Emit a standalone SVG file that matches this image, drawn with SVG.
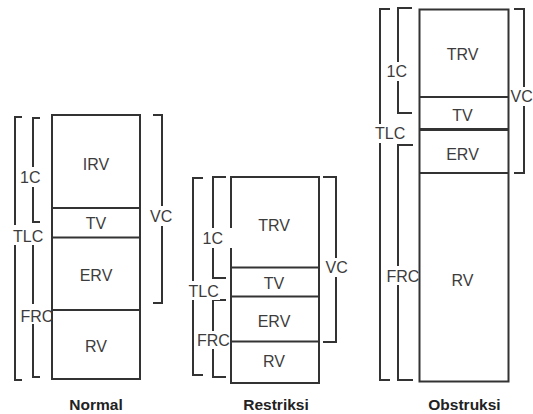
<svg xmlns="http://www.w3.org/2000/svg" width="533" height="414" viewBox="0 0 533 414">
<style>
.bk{fill:none;stroke:#333;stroke-width:2}
.box{fill:#fff;stroke:#333;stroke-width:2}
.dv{stroke:#333;stroke-width:2}
.bg{fill:#fff}
.t{font-family:"Liberation Sans",Arial,sans-serif;font-size:16px;fill:#3c3c3c;text-anchor:middle}
.lb{font-family:"Liberation Sans",Arial,sans-serif;font-size:16px;fill:#3c3c3c}
.ti{font-family:"Liberation Sans",Arial,sans-serif;font-size:15.5px;font-weight:bold;fill:#222;text-anchor:middle}
</style>
<rect width="533" height="414" fill="#fff"/>
<g id="connectors">
  <path class="bk" d="M22,117 H15 V380 H22"/>
  <path class="bk" d="M40,118 H33 V222 H40"/>
  <path class="bk" d="M40,237 H33 V377 H40"/>
  <path class="bk" d="M153,115 H162 V303 H153"/>
  <path class="bk" d="M203,178 H193 V375 H203"/>
  <path class="bk" d="M226,177 H213 V278 H226"/>
  <path class="bk" d="M226,300 H213 V377 H226"/>
  <path class="bk" d="M323,177 H336 V342 H323"/>
  <path class="bk" d="M390,9 H380 V380 H390"/>
  <path class="bk" d="M412,8 H398 V113 H412"/>
  <path class="bk" d="M413,145 H398 V380 H413"/>
  <path class="bk" d="M514,9 H524 V173 H514"/>
</g>
<g id="label-bgs">
  <rect class="bg" x="19" y="167" width="23" height="20"/>
  <rect class="bg" x="12" y="225" width="32" height="20"/>
  <rect class="bg" x="19" y="304" width="32" height="20"/>
  <rect class="bg" x="148" y="206" width="27" height="20"/>
  <rect class="bg" x="187" y="281" width="33" height="19"/>
  <rect class="bg" x="196" y="331" width="33" height="18"/>
  <rect class="bg" x="324" y="258" width="24" height="19"/>
  <rect class="bg" x="385" y="62" width="22" height="19"/>
  <rect class="bg" x="374" y="124" width="33" height="19"/>
  <rect class="bg" x="385" y="266" width="33" height="19"/>
  <rect class="bg" x="510" y="87" width="23" height="19"/>
</g>
<g id="normal">
  <g id="normal-box">
    <rect class="box" x="52" y="115" width="88" height="264"/>
    <line class="dv" x1="52" y1="208" x2="140" y2="208"/>
    <line class="dv" x1="52" y1="237.5" x2="140" y2="237.5"/>
    <line class="dv" x1="52" y1="310" x2="140" y2="310"/>
  </g>
  <text class="t" x="96" y="169.5">IRV</text>
  <text class="t" x="96" y="229">TV</text>
  <text class="t" x="96" y="281">ERV</text>
  <text class="t" x="96" y="352">RV</text>
  <text class="lb" x="20" y="183">1C</text>
  <text class="lb" x="13" y="241.5">TLC</text>
  <text class="lb" x="20.5" y="321.5">FRC</text>
  <text class="lb" x="150" y="222">VC</text>
  <text class="ti" x="96" y="410">Normal</text>
</g>
<g id="restriksi">
  <g id="restriksi-box">
    <rect class="box" x="231" y="177" width="88" height="206"/>
    <line class="dv" x1="231" y1="267.5" x2="319" y2="267.5"/>
    <line class="dv" x1="231" y1="296.5" x2="319" y2="296.5"/>
    <line class="dv" x1="231" y1="341.5" x2="319" y2="341.5"/>
  </g>
  <rect class="bg" x="202" y="228" width="31" height="20"/>
  <text class="t" x="274" y="230.5">TRV</text>
  <text class="t" x="274" y="289">TV</text>
  <text class="t" x="274" y="326.5">ERV</text>
  <text class="t" x="274" y="367">RV</text>
  <text class="lb" x="202.5" y="244">1C</text>
  <text class="lb" x="188.5" y="296.5">TLC</text>
  <text class="lb" x="197" y="345.5">FRC</text>
  <text class="lb" x="325.5" y="273">VC</text>
  <text class="ti" x="276" y="410">Restriksi</text>
</g>
<g id="obstruksi">
  <g id="obstruksi-box">
    <rect class="box" x="419.5" y="9.5" width="89" height="372"/>
    <line class="dv" x1="419.5" y1="97" x2="508.5" y2="97"/>
    <line class="dv" x1="419.5" y1="129.5" x2="508.5" y2="129.5" style="stroke-width:3"/>
    <line class="dv" x1="419.5" y1="173" x2="508.5" y2="173"/>
  </g>
  <text class="t" x="462.5" y="60">TRV</text>
  <text class="t" x="462.5" y="120.5">TV</text>
  <text class="t" x="462.5" y="160">ERV</text>
  <text class="t" x="462.5" y="285.5">RV</text>
  <text class="lb" x="386.5" y="77">1C</text>
  <text class="lb" x="375" y="139">TLC</text>
  <text class="lb" x="386.5" y="281.5">FRC</text>
  <text class="lb" x="510.5" y="101.5">VC</text>
  <text class="ti" x="464.5" y="410">Obstruksi</text>
</g>
</svg>
